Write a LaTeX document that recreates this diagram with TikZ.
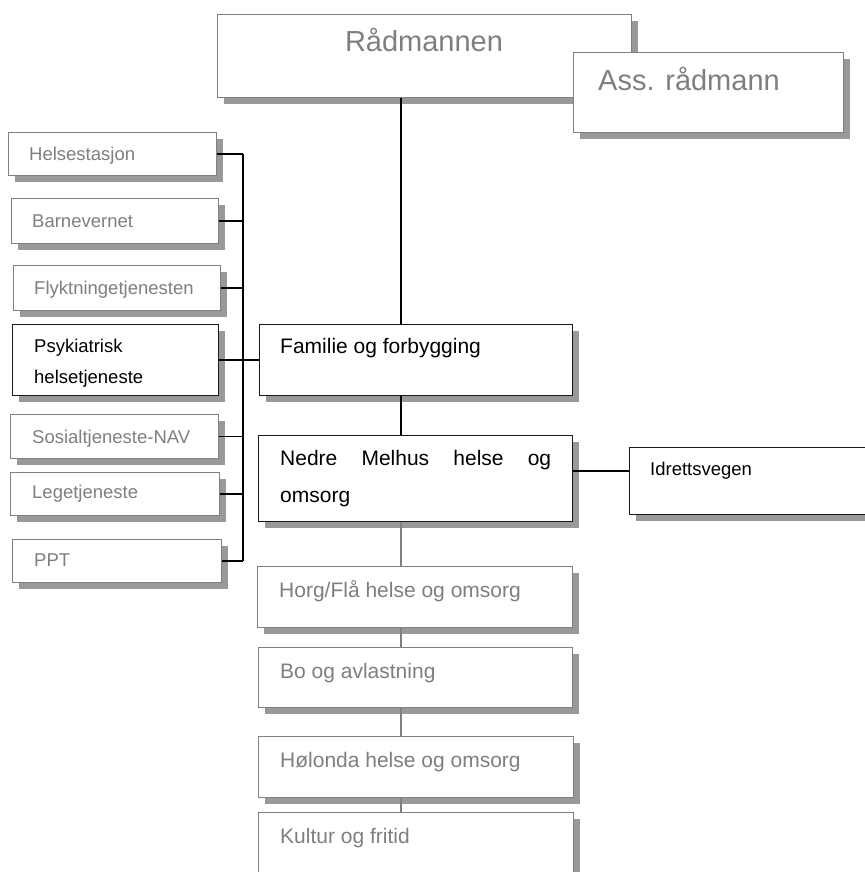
\documentclass[tikz,border=0pt]{standalone}
\usepackage{fontspec}
\setmainfont{Liberation Sans}
\usetikzlibrary{shadows}
\definecolor{grisbord}{HTML}{808080}
\definecolor{gristexte}{HTML}{7F7F7F}
\definecolor{ombre}{HTML}{999999}
\definecolor{noirbord}{HTML}{1A1A1A}
\begin{document}
\begin{tikzpicture}[x=1pt,y=-1pt,
  boite/.style={rectangle,anchor=north west,fill=white,line width=1.3pt,inner sep=0pt,
    drop shadow={shadow xshift=6pt,shadow yshift=-6pt,fill=ombre,opacity=1}},
  grisboite/.style={boite,draw=grisbord},
  noirboite/.style={boite,draw=noirbord},
  texte/.style={anchor=base west,inner sep=0pt},
  gristexte/.style={texte,text=gristexte},
  lien/.style={line width=1.5pt,black},
  grislien/.style={line width=1.3pt,grisbord}]
\useasboundingbox (0,0) rectangle (864,872) ;
\fill[white] (0,0) rectangle (864,872) ;
% les deux boites du haut
\node[grisboite,minimum width=414pt,minimum height=83pt] (rad) at (217,14) {} ;
\node[texte,anchor=base,text=gristexte,font=\fontsize{29}{34}\selectfont] (trad) at (424,52) {Rådmannen} ;
\node[grisboite,minimum width=270pt,minimum height=80pt] (ass) at (573,52) {} ;
\node[gristexte,font=\fontsize{29}{34}\selectfont] (tass) at (598,91) {Ass. rådmann} ;
% colonne de gauche
\node[grisboite,minimum width=208pt,minimum height=43pt] (helse) at (8,132) {} ;
\node[gristexte,font=\fontsize{18.5}{22}\selectfont] (thelse) at (29,160) {Helsestasjon} ;
\node[grisboite,minimum width=207pt,minimum height=45pt] (barne) at (11,198) {} ;
\node[gristexte,font=\fontsize{18.5}{22}\selectfont] (tbarne) at (32,227) {Barnevernet} ;
\node[grisboite,minimum width=207pt,minimum height=45pt] (flykt) at (13,265) {} ;
\node[gristexte,font=\fontsize{18.5}{22}\selectfont] (tflykt) at (34,294) {Flyktningetjenesten} ;
\node[noirboite,minimum width=206pt,minimum height=71pt] (psyk) at (12,324) {} ;
\node[texte,align=left,font=\fontsize{18.5}{31}\selectfont] (tpsyk) at (34,383) {Psykiatrisk\\helsetjeneste} ;
\node[grisboite,minimum width=208pt,minimum height=44pt] (sosial) at (10,414) {} ;
\node[gristexte,font=\fontsize{18.5}{22}\selectfont] (tsosial) at (32,443) {Sosialtjeneste-NAV} ;
\node[grisboite,minimum width=209pt,minimum height=43pt] (lege) at (10,472) {} ;
\node[gristexte,font=\fontsize{18.5}{22}\selectfont] (tlege) at (32,498) {Legetjeneste} ;
\node[grisboite,minimum width=209pt,minimum height=43pt] (ppt) at (12,539) {} ;
\node[gristexte,font=\fontsize{18.5}{22}\selectfont] (tppt) at (34,566) {PPT} ;
% colonne du milieu
\node[noirboite,minimum width=313pt,minimum height=71pt] (fam) at (259,324) {} ;
\node[texte,font=\fontsize{21}{25}\selectfont] (tfam) at (280,353) {Familie og forbygging} ;
\node[noirboite,minimum width=314pt,minimum height=86pt] (nedre) at (258,435) {} ;
\node[texte,text width=271pt,align=justify,font=\fontsize{21}{37}\selectfont] (tnedre) at (280,465) {Nedre Melhus helse og \mbox{omsorg}} ;
\node[noirboite,minimum width=250pt,minimum height=67pt] (idrett) at (629,447) {} ;
\node[texte,font=\fontsize{18.5}{22}\selectfont] (tidrett) at (650,475) {Idrettsvegen} ;
\node[grisboite,minimum width=315pt,minimum height=61pt] (horg) at (257,566) {} ;
\node[gristexte,font=\fontsize{21}{25}\selectfont] (thorg) at (279,597) {Horg/Flå helse og omsorg} ;
\node[grisboite,minimum width=314pt,minimum height=60pt] (bo) at (258,647) {} ;
\node[gristexte,font=\fontsize{21}{25}\selectfont] (tbo) at (280,678) {Bo og avlastning} ;
\node[grisboite,minimum width=315pt,minimum height=61pt] (holo) at (258,736) {} ;
\node[gristexte,font=\fontsize{21}{25}\selectfont] (tholo) at (280,767) {Hølonda helse og omsorg} ;
\node[grisboite,minimum width=315pt,minimum height=80pt] (kultur) at (258,812) {} ;
\node[gristexte,font=\fontsize{21}{25}\selectfont] (tkultur) at (280,843) {Kultur og fritid} ;
% liaisons
\coordinate (stamme) at (401,0) ;
\coordinate (buss) at (243,0) ;
\coordinate (idrettlinje) at (600,471) ;
\draw[lien] (rad.south -| stamme) -- (fam.north -| stamme) ;
\draw[lien] (fam.south -| stamme) -- (nedre.north -| stamme) ;
\draw[lien] (idrettlinje -| nedre.east) -- (idrettlinje -| idrett.west) ;
\draw[lien] (helse.east -| buss) -- (ppt.east -| buss) ;
\draw[lien] (helse.east) -- (helse.east -| buss) ;
\draw[lien] (barne.east) -- (barne.east -| buss) ;
\draw[lien] (flykt.east) -- (flykt.east -| buss) ;
\draw[lien] (psyk.east) -- (fam.west) ;
\draw[lien] (sosial.east) -- (sosial.east -| buss) ;
\draw[lien] (lege.east) -- (lege.east -| buss) ;
\draw[lien] (ppt.east) -- (ppt.east -| buss) ;
\draw[grislien] (nedre.south -| stamme) -- (horg.north -| stamme) ;
\draw[grislien] (horg.south -| stamme) -- (bo.north -| stamme) ;
\draw[grislien] (bo.south -| stamme) -- (holo.north -| stamme) ;
\draw[grislien] (holo.south -| stamme) -- (kultur.north -| stamme) ;
\end{tikzpicture}
\end{document}
